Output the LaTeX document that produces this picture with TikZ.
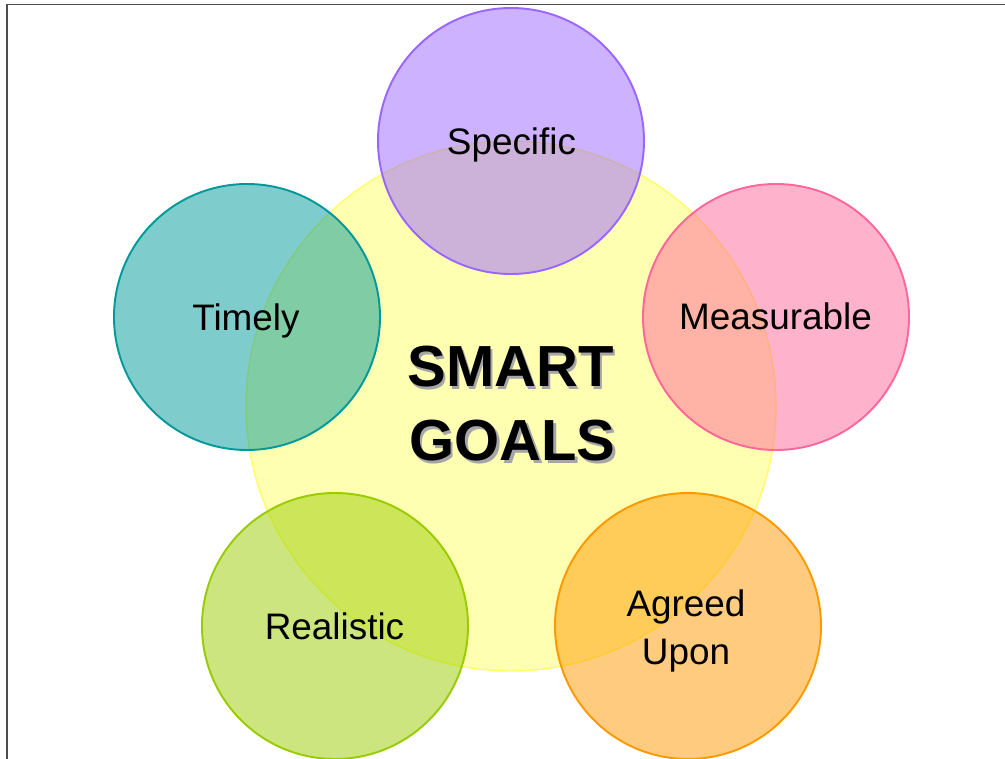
\documentclass[tikz,border=0pt]{standalone}
\usepackage{fontspec}
\setmainfont{Liberation Sans}
\usepackage{tikz}
\definecolor{hubline}{HTML}{FFFF66}
\definecolor{specline}{HTML}{9966FF}
\definecolor{measline}{HTML}{FF6699}
\definecolor{timeline}{HTML}{009999}
\definecolor{realline}{HTML}{99CC00}
\definecolor{agreeline}{HTML}{FF9900}
\definecolor{frameline}{HTML}{4D4D4D}

\begin{document}
\begin{tikzpicture}[x=0.02cm, y=-0.02cm,
		petal/.style={line width=1.1pt, fill opacity=0.5},
		label/.style={anchor=base, font=\fontsize{21}{24}\selectfont, text=black, align=center},
		bigword/.style={anchor=base, font=\fontsize{33}{40}\selectfont\bfseries}]
			%%%%% START %%%%%
			\useasboundingbox (0, 0) rectangle (1005, 759);
			
			\draw[line width=0.9pt, color=frameline] (1005, 4.5) -- (7, 4.5) -- (7, 759);
			
			% centre
			\draw[line width=0.8pt, color=hubline, fill=hubline, fill opacity=0.5] (511, 406) circle (265);
			
			% five petals
			\draw[petal, color=specline, fill=specline] (511, 141) circle (133);
			\draw[petal, color=measline, fill=measline] (776, 317) circle (133);
			\draw[petal, color=timeline, fill=timeline] (247, 317) circle (133);
			\draw[petal, color=realline, fill=realline] (335, 626) circle (133);
			\draw[petal, color=agreeline, fill=agreeline] (688, 626) circle (133);
			
			\node[label] (specific) at (511.5, 155) {Specific};
			\node[label] (measurable) at (775.5, 330) {Measurable};
			\node[label] (timely) at (246, 331) {Timely};
			\node[label] (realistic) at (334.5, 640) {Realistic};
			\node[label] (agreed) at (686, 617) {Agreed};
			\node[label] (upon) at (686, 665) {Upon};
			
			\node[bigword, text=black!35] (smartshadow) at (513, 389.5) {SMART};
			\node[bigword, text=black!35] (goalsshadow) at (515, 463.5) {GOALS};
			\node[bigword] (smart) at (510.5, 387) {SMART};
			\node[bigword] (goals) at (512.5, 461) {GOALS};
			%%%%% END %%%%%
\end{tikzpicture}
\end{document}
